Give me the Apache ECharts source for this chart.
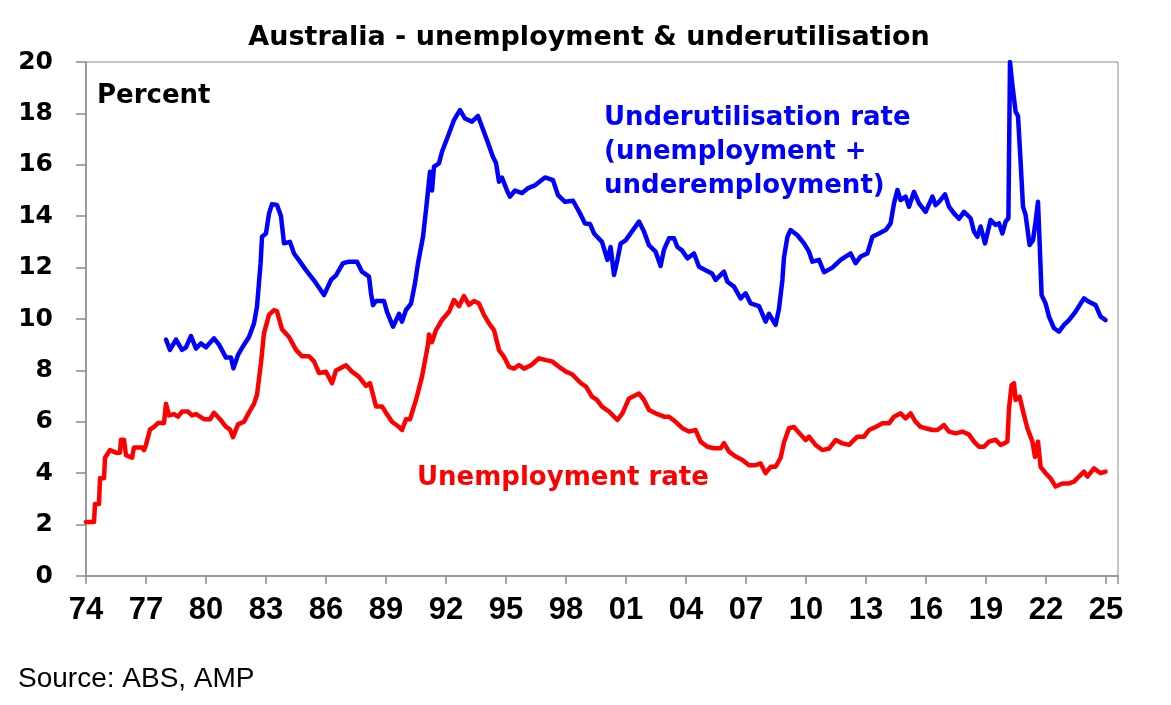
<!DOCTYPE html>
<html>
<head>
<meta charset="utf-8">
<title>Australia - unemployment & underutilisation</title>
<script src="https://cdn.jsdelivr.net/npm/echarts@6/dist/echarts.min.js"></script>
<style>
html, body { margin: 0; padding: 0; background: #fff; }
#main { width: 1171px; height: 705px; }
</style>
</head>
<body>
<div id="main"></div>
<script>
// [decimal year, percent]
var unemploymentRate = [
    [1974.0, 2.1], [1974.4, 2.1], [1974.45, 2.8], [1974.65, 2.8], [1974.7, 3.8], [1974.9, 3.8],
    [1974.95, 4.6], [1975.2, 4.9], [1975.5, 4.8], [1975.7, 4.8], [1975.75, 5.3], [1975.9, 5.3],
    [1976.0, 4.7], [1976.3, 4.6], [1976.4, 5.0], [1976.8, 5.0], [1976.9, 4.9], [1977.0, 5.1],
    [1977.2, 5.7], [1977.4, 5.8], [1977.6, 5.95], [1977.9, 5.95], [1978.0, 6.7], [1978.15, 6.25],
    [1978.4, 6.3], [1978.6, 6.2], [1978.8, 6.4], [1979.1, 6.4], [1979.3, 6.25], [1979.5, 6.3],
    [1979.7, 6.2], [1979.9, 6.1], [1980.2, 6.1], [1980.4, 6.35], [1980.7, 6.1], [1981.0, 5.8],
    [1981.2, 5.7], [1981.35, 5.4], [1981.6, 5.9], [1981.9, 6.0], [1982.1, 6.3], [1982.4, 6.7],
    [1982.55, 7.05], [1982.75, 8.3], [1982.9, 9.45], [1983.15, 10.16], [1983.4, 10.35], [1983.55, 10.3],
    [1983.8, 9.6], [1984.15, 9.3], [1984.5, 8.8], [1984.8, 8.55], [1985.15, 8.55], [1985.4, 8.35],
    [1985.65, 7.9], [1986.0, 7.95], [1986.3, 7.5], [1986.5, 8.0], [1987.0, 8.2], [1987.3, 7.95],
    [1987.65, 7.75], [1988.0, 7.4], [1988.2, 7.5], [1988.5, 6.6], [1988.8, 6.6], [1989.0, 6.35],
    [1989.3, 6.0], [1989.65, 5.8], [1989.8, 5.68], [1990.0, 6.1], [1990.2, 6.1], [1990.5, 6.85],
    [1990.8, 7.76], [1991.1, 9.0], [1991.15, 9.4], [1991.3, 9.1], [1991.5, 9.57], [1991.8, 9.96],
    [1992.15, 10.28], [1992.4, 10.74], [1992.65, 10.5], [1992.9, 10.89], [1993.15, 10.55], [1993.4, 10.7],
    [1993.65, 10.6], [1993.9, 10.16], [1994.15, 9.83], [1994.4, 9.57], [1994.65, 8.79], [1994.9, 8.53],
    [1995.15, 8.14], [1995.4, 8.07], [1995.65, 8.21], [1995.9, 8.07], [1996.25, 8.2], [1996.65, 8.47],
    [1997.0, 8.4], [1997.3, 8.35], [1997.65, 8.14], [1998.0, 7.95], [1998.3, 7.85], [1998.75, 7.5],
    [1999.0, 7.37], [1999.3, 6.98], [1999.55, 6.85], [1999.8, 6.59], [2000.15, 6.4], [2000.57, 6.07],
    [2000.82, 6.33], [2001.15, 6.91], [2001.65, 7.1], [2001.9, 6.85], [2002.15, 6.46], [2002.48, 6.33],
    [2002.9, 6.2], [2003.15, 6.2], [2003.48, 6.0], [2003.82, 5.75], [2004.15, 5.62], [2004.48, 5.68],
    [2004.73, 5.23], [2005.07, 5.03], [2005.4, 4.97], [2005.73, 4.97], [2005.9, 5.17], [2006.15, 4.84],
    [2006.48, 4.65], [2006.82, 4.51], [2007.15, 4.31], [2007.48, 4.31], [2007.73, 4.38], [2007.98, 4.0],
    [2008.23, 4.25], [2008.48, 4.25], [2008.73, 4.6], [2008.9, 5.2], [2009.15, 5.75], [2009.4, 5.8],
    [2009.65, 5.57], [2009.98, 5.29], [2010.15, 5.42], [2010.48, 5.1], [2010.82, 4.9], [2011.15, 4.96],
    [2011.48, 5.29], [2011.82, 5.16], [2012.15, 5.1], [2012.57, 5.42], [2012.9, 5.42], [2013.15, 5.68],
    [2013.48, 5.8], [2013.82, 5.94], [2014.15, 5.94], [2014.4, 6.2], [2014.73, 6.33], [2014.98, 6.13],
    [2015.23, 6.33], [2015.48, 6.0], [2015.73, 5.8], [2015.98, 5.75], [2016.32, 5.68], [2016.57, 5.68],
    [2016.9, 5.87], [2017.15, 5.62], [2017.48, 5.55], [2017.82, 5.62], [2018.15, 5.5], [2018.4, 5.23],
    [2018.65, 5.03], [2018.9, 5.03], [2019.15, 5.23], [2019.48, 5.3], [2019.73, 5.1], [2019.9, 5.16],
    [2020.07, 5.23], [2020.15, 6.52], [2020.28, 7.43], [2020.4, 7.5], [2020.48, 6.85], [2020.68, 6.98],
    [2020.9, 6.26], [2021.07, 5.75], [2021.32, 5.23], [2021.45, 4.64], [2021.6, 5.23], [2021.73, 4.25],
    [2021.98, 4.0], [2022.23, 3.8], [2022.48, 3.48], [2022.82, 3.6], [2023.15, 3.6], [2023.4, 3.67],
    [2023.65, 3.87], [2023.9, 4.06], [2024.07, 3.87], [2024.4, 4.19], [2024.73, 4.0], [2024.98, 4.06]
];

var underutilisationRate = [
    [1978.0, 9.2], [1978.2, 8.8], [1978.5, 9.2], [1978.8, 8.8], [1979.0, 8.9], [1979.25, 9.34],
    [1979.5, 8.85], [1979.75, 9.05], [1980.0, 8.9], [1980.4, 9.25], [1980.65, 9.0], [1981.0, 8.5],
    [1981.25, 8.5], [1981.37, 8.08], [1981.6, 8.6], [1981.9, 9.0], [1982.15, 9.3], [1982.4, 9.83],
    [1982.55, 10.48], [1982.73, 12.17], [1982.8, 13.2], [1983.0, 13.33], [1983.15, 14.1], [1983.3, 14.47],
    [1983.55, 14.44], [1983.75, 14.0], [1983.9, 12.95], [1984.2, 13.0], [1984.4, 12.55], [1984.7, 12.23],
    [1985.0, 11.9], [1985.2, 11.7], [1985.45, 11.45], [1985.9, 10.93], [1986.25, 11.52], [1986.5, 11.7],
    [1986.85, 12.17], [1987.15, 12.23], [1987.55, 12.23], [1987.8, 11.84], [1988.15, 11.65], [1988.25, 11.0],
    [1988.35, 10.54], [1988.5, 10.7], [1988.9, 10.7], [1989.05, 10.28], [1989.35, 9.7], [1989.65, 10.2],
    [1989.8, 9.9], [1990.0, 10.35], [1990.25, 10.6], [1990.45, 11.39], [1990.6, 12.17], [1990.85, 13.2],
    [1991.0, 14.24], [1991.2, 15.73], [1991.3, 15.0], [1991.4, 15.93], [1991.65, 16.06], [1991.8, 16.51],
    [1992.15, 17.22], [1992.4, 17.74], [1992.55, 17.94], [1992.7, 18.13], [1992.95, 17.8], [1993.3, 17.68],
    [1993.6, 17.9], [1993.8, 17.48], [1994.05, 16.96], [1994.35, 16.3], [1994.5, 16.07], [1994.65, 15.34],
    [1994.8, 15.5], [1995.05, 15.0], [1995.2, 14.76], [1995.45, 15.0], [1995.8, 14.9], [1996.1, 15.09],
    [1996.45, 15.2], [1996.95, 15.51], [1997.35, 15.4], [1997.6, 14.82], [1997.95, 14.56], [1998.35, 14.6],
    [1998.7, 14.11], [1998.95, 13.72], [1999.2, 13.7], [1999.4, 13.33], [1999.8, 13.0], [2000.07, 12.3],
    [2000.23, 12.8], [2000.4, 11.71], [2000.57, 12.3], [2000.73, 12.93], [2000.98, 13.06], [2001.23, 13.33],
    [2001.65, 13.79], [2001.9, 13.4], [2002.15, 12.87], [2002.48, 12.62], [2002.73, 12.06], [2002.9, 12.7],
    [2003.15, 13.14], [2003.4, 13.14], [2003.57, 12.8], [2003.8, 12.67], [2004.07, 12.36], [2004.4, 12.55],
    [2004.65, 12.03], [2004.98, 11.9], [2005.3, 11.77], [2005.48, 11.52], [2005.9, 11.84], [2006.07, 11.45],
    [2006.4, 11.26], [2006.73, 10.8], [2006.98, 11.0], [2007.23, 10.61], [2007.65, 10.5], [2007.98, 9.9],
    [2008.15, 10.2], [2008.48, 9.77], [2008.65, 10.4], [2008.82, 11.52], [2008.9, 12.4], [2009.07, 13.2],
    [2009.23, 13.46], [2009.57, 13.26], [2009.9, 12.94], [2010.15, 12.62], [2010.32, 12.23], [2010.65, 12.3],
    [2010.9, 11.82], [2011.32, 12.0], [2011.73, 12.3], [2011.98, 12.43], [2012.23, 12.55], [2012.48, 12.17],
    [2012.73, 12.43], [2013.07, 12.55], [2013.32, 13.2], [2013.65, 13.33], [2013.98, 13.46], [2014.23, 13.72],
    [2014.4, 14.5], [2014.57, 15.02], [2014.73, 14.63], [2014.98, 14.76], [2015.15, 14.37], [2015.4, 14.95],
    [2015.65, 14.5], [2015.98, 14.17], [2016.32, 14.76], [2016.48, 14.43], [2016.65, 14.56], [2016.95, 14.85],
    [2017.15, 14.37], [2017.4, 14.11], [2017.65, 13.9], [2017.9, 14.17], [2018.23, 13.92], [2018.4, 13.4],
    [2018.57, 13.2], [2018.73, 13.6], [2018.95, 12.94], [2019.23, 13.85], [2019.48, 13.66], [2019.65, 13.72],
    [2019.82, 13.33], [2019.98, 13.79], [2020.12, 13.92], [2020.2, 20.0], [2020.32, 19.1], [2020.48, 18.07],
    [2020.6, 17.9], [2020.73, 16.12], [2020.85, 14.37], [2020.98, 14.05], [2021.18, 12.88], [2021.35, 13.07],
    [2021.48, 13.79], [2021.6, 14.56], [2021.68, 13.0], [2021.78, 10.93], [2021.98, 10.6], [2022.15, 10.09],
    [2022.4, 9.64], [2022.65, 9.51], [2022.9, 9.77], [2023.15, 9.96], [2023.48, 10.29], [2023.73, 10.6],
    [2023.9, 10.8], [2024.15, 10.67], [2024.48, 10.54], [2024.73, 10.09], [2024.98, 9.96]
];

var xStart = 1974, xEnd = 2025.6, xStep = 3;
var yMin = 0, yMax = 20, yStep = 2;

var chart = echarts.init(document.getElementById('main'));

var boldWide = '"DejaVu Sans", sans-serif';
var arial = '"Liberation Sans", Arial, sans-serif';

option = {
    animation: false,
    backgroundColor: '#fff',
    grid: {
        left: 86, right: 53, top: 62, bottom: 129,
        show: true,
        borderColor: '#8c8c8c',
        borderWidth: 1
    },
    xAxis: {
        type: 'value',
        min: xStart,
        max: xEnd,
        interval: xStep,
        axisLine: { lineStyle: { color: '#8c8c8c', width: 1.5 } },
        axisTick: { inside: false, length: 8, lineStyle: { color: '#8c8c8c', width: 1.5 } },
        splitLine: { show: false },
        axisLabel: {
            margin: 19,
            color: '#000',
            fontFamily: arial,
            fontWeight: 'bold',
            fontSize: 31,
            formatter: function (v) {
                return Math.abs(v - Math.round(v)) < 1e-6 ? String(Math.round(v)).slice(2) : '';
            }
        }
    },
    yAxis: {
        type: 'value',
        min: yMin,
        max: yMax,
        interval: yStep,
        axisLine: { show: true, lineStyle: { color: '#8c8c8c', width: 1.5 } },
        axisTick: { show: true, length: 10, lineStyle: { color: '#8c8c8c', width: 1.5 } },
        splitLine: { show: false },
        axisLabel: {
            margin: 33,
            color: '#000',
            fontFamily: boldWide,
            fontWeight: 'bold',
            fontSize: 25
        }
    },
    series: [
        {
            name: 'Unemployment rate',
            type: 'line',
            data: unemploymentRate,
            showSymbol: false,
            lineStyle: { color: '#ff0000', width: 4.5, cap: 'round', join: 'round' },
            itemStyle: { color: '#ff0000' },
            z: 3
        },
        {
            name: 'Underutilisation rate',
            type: 'line',
            data: underutilisationRate,
            showSymbol: false,
            lineStyle: { color: '#0000ff', width: 4.5, cap: 'round', join: 'round' },
            itemStyle: { color: '#0000ff' },
            z: 2
        }
    ],
    graphic: [
        { type: 'text', x: 589, y: 38, style: { text: 'Australia - unemployment & underutilisation', fill: '#000', font: 'bold 27px ' + boldWide, align: 'center', verticalAlign: 'middle' } },
        { type: 'text', x: 97, y: 96, style: { text: 'Percent', fill: '#000', font: 'bold 26px ' + boldWide, align: 'left', verticalAlign: 'middle' } },
        { type: 'text', x: 604, y: 118, style: { text: 'Underutilisation rate', fill: '#0000ff', font: 'bold 26px ' + boldWide, align: 'left', verticalAlign: 'middle' } },
        { type: 'text', x: 604, y: 152, style: { text: '(unemployment +', fill: '#0000ff', font: 'bold 26px ' + boldWide, align: 'left', verticalAlign: 'middle' } },
        { type: 'text', x: 604, y: 186, style: { text: 'underemployment)', fill: '#0000ff', font: 'bold 26px ' + boldWide, align: 'left', verticalAlign: 'middle' } },
        { type: 'text', x: 417, y: 478, style: { text: 'Unemployment rate', fill: '#ff0000', font: 'bold 26px ' + boldWide, align: 'left', verticalAlign: 'middle' } },
        { type: 'text', x: 18, y: 679, style: { text: 'Source: ABS, AMP', fill: '#000', font: '28px ' + arial, align: 'left', verticalAlign: 'middle' } }
    ]
};

chart.setOption(option);
</script>
</body>
</html>
